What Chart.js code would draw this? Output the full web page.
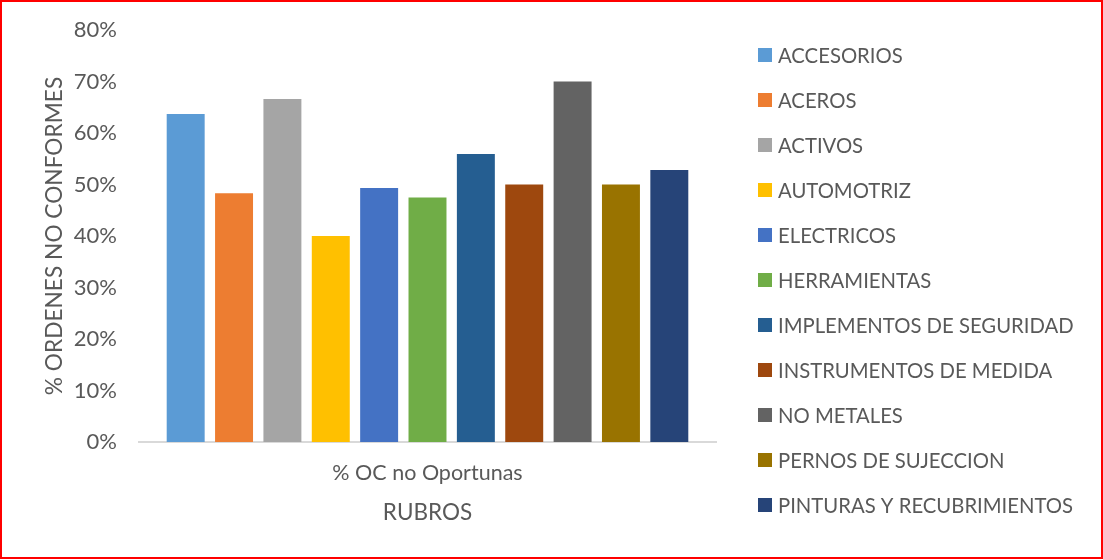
<!DOCTYPE html>
<html>
<head>
<meta charset="utf-8">
<script src="https://cdn.jsdelivr.net/npm/chart.js@4"></script>
<style>
  html, body { margin: 0; padding: 0; background: #fff; }
</style>
</head>
<body>
<canvas id="rubrosChart" width="1103" height="560"></canvas>
<script>
// categories (one per bar / legend entry)
const rubros = ['ACCESORIOS', 'ACEROS', 'ACTIVOS', 'AUTOMOTRIZ', 'ELECTRICOS', 'HERRAMIENTAS',
    'IMPLEMENTOS DE SEGURIDAD', 'INSTRUMENTOS DE MEDIDA', 'NO METALES', 'PERNOS DE SUJECCION',
    'PINTURAS Y RECUBRIMIENTOS'];
// % OC no oportunas
const porcentajes = [63.7, 48.3, 66.6, 40.0, 49.3, 47.5, 55.9, 50.0, 70.0, 50.0, 52.8];
const colores = ['#5B9BD5', '#ED7D31', '#A5A5A5', '#FFC000', '#4472C4', '#70AD47',
    '#255E91', '#9E480E', '#636363', '#997300', '#264478'];
const grupo = ['% OC no Oportunas'];

const FONT = 'Lato';
const GRIS = '#595959';

let datasets = [];
for (let i = 0; i < rubros.length; i++) {
    datasets.push({
        label: rubros[i],
        data: [porcentajes[i]],
        backgroundColor: colores[i],
        categoryPercentage: 0.922,
        barPercentage: 0.785
    });
}

// the built-in right legend gets squeezed to a quarter of the width, so draw it here
const sideLegend = {
    id: 'sideLegend',
    afterDraw(chart) {
        const ctx = chart.ctx;
        const sets = chart.data.datasets;
        const step = 45;
        const x = chart.chartArea.right + 42;
        let y = chart.height / 2 - step * (sets.length - 1) / 2;
        ctx.save();
        ctx.font = '20.3px ' + FONT;
        ctx.textBaseline = 'middle';
        ctx.textAlign = 'left';
        sets.forEach(function (ds) {
            ctx.fillStyle = ds.backgroundColor;
            ctx.fillRect(x, y - 7, 14, 14);
            ctx.fillStyle = GRIS;
            ctx.fillText(ds.label, x + 20, y + 1);
            y += step;
        });
        ctx.restore();
    }
};

const redBorder = {
    id: 'redBorder',
    afterDraw(chart) {
        const ctx = chart.ctx;
        ctx.save();
        ctx.strokeStyle = '#FF0000';
        ctx.lineWidth = 2;
        ctx.strokeRect(1, 1, chart.width - 2, chart.height - 3);
        ctx.restore();
    }
};

new Chart('rubrosChart', {
    type: 'bar',
    data: { labels: grupo, datasets: datasets },
    plugins: [sideLegend, redBorder],
    options: {
        responsive: false,
        animation: false,
        layout: { padding: { left: 38, top: 30, right: 387, bottom: 30 } },
        plugins: {
            legend: { display: false },
            tooltip: { enabled: false }
        },
        scales: {
            x: {
                grid: { display: false, drawTicks: false },
                border: { color: '#D9D9D9', width: 2 },
                ticks: { font: { family: FONT, size: 21.5 }, color: GRIS, padding: 18 },
                title: { display: true, text: 'RUBROS', font: { family: FONT, size: 22.5 }, color: GRIS, padding: { top: 0, bottom: 4 } },
                afterFit: function (scale) { scale.height = 88; }
            },
            y: {
                min: 0,
                max: 80,
                grid: { display: false, drawTicks: false },
                border: { display: false },
                ticks: {
                    stepSize: 10,
                    font: { family: FONT, size: 22 },
                    color: GRIS,
                    padding: 22,
                    callback: function (v) { return v + '%'; }
                },
                title: { display: true, text: '% ORDENES NO CONFORMES', font: { family: FONT, size: 22.7 }, color: GRIS, padding: { top: 3.4, bottom: 6 } },
                afterFit: function (scale) {
                    scale.width = 101;
                    scale.paddingTop = 0;
                    scale.paddingBottom = 0;
                }
            }
        }
    }
});
</script>
</body>
</html>
